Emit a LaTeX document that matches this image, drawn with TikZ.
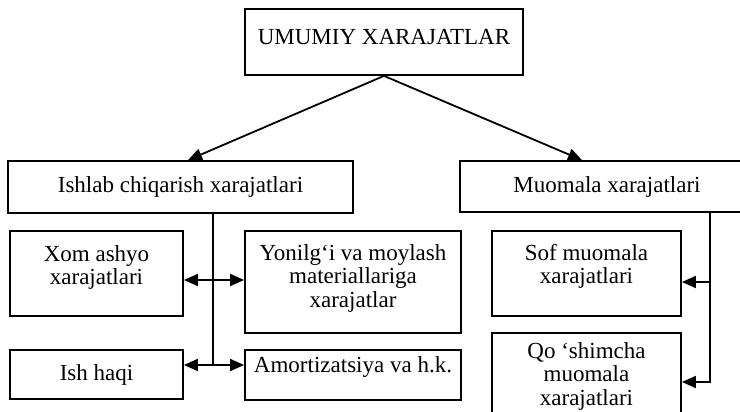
\documentclass[tikz,border=0pt]{standalone}
\usepackage{fontspec}
\setmainfont{Liberation Serif}
\usetikzlibrary{arrows.meta}
\begin{document}
\begin{tikzpicture}[x=1pt,y=-1pt,
  box/.style={draw, line width=1.8pt, inner sep=0pt, align=center,
    font=\fontsize{23}{23.5}\selectfont},
  tip/.style={Triangle[length=14pt,width=12pt]},
  arr/.style={line width=1.8pt, -{Triangle[length=14pt,width=12pt]}},
  darr/.style={line width=1.8pt, {Triangle[length=14pt,width=12pt]}-{Triangle[length=14pt,width=12pt]}},
  conn/.style={line width=1.8pt}]
\useasboundingbox (0,0) rectangle (740,412);
\node[box, minimum width=278pt, minimum height=66pt, text depth=10pt] (top) at (384,42) {UMUMIY XARAJATLAR};
\node[box, minimum width=345pt, minimum height=52pt] (ish) at (180.5,187) {Ishlab chiqarish xarajatlari};
\node[box, minimum width=294pt, minimum height=51pt] (muo) at (607,186.5) {Muomala xarajatlari};
\node[box, minimum width=173pt, minimum height=85pt, text depth=17pt] (xom) at (96.5,273.5) {Xom ashyo\\xarajatlari};
\node[box, minimum width=216pt, minimum height=102pt, text depth=12pt] (yon) at (353,282) {Yonilg‘i va moylash\\materiallariga\\xarajatlar};
\node[box, minimum width=173pt, minimum height=49pt] (haq) at (96.5,374.5) {Ish haqi};
\node[box, minimum width=216pt, minimum height=50pt, text depth=20pt] (amo) at (353,375) {Amortizatsiya va h.k.};
\node[box, minimum width=189pt, minimum height=85pt, text depth=19pt] (sof) at (586.5,273.5) {Sof muomala\\xarajatlari};
\node[box, minimum width=189pt, minimum height=86pt] (qos) at (586.5,376) {Qo ‘shimcha\\muomala\\xarajatlari};
\draw[arr] (top.south) -- ([xshift=7.5pt]ish.north);
\draw[arr] (top.south) -- ([xshift=-25pt]muo.north);
\coordinate (j1) at (213,280);
\coordinate (j2) at (213,365);
\draw[conn] (ish.south -| j1) -- (j2);
\draw[darr] (xom.east |- j1) -- (yon.west |- j1);
\draw[darr] (haq.east |- j2) -- (amo.west |- j2);
\coordinate (k1) at (710,282);
\coordinate (k2) at (710,382);
\draw[arr] (muo.south -| k2) -- (k2) -- (qos.east |- k2);
\draw[arr] (k1) -- (sof.east |- k1);
\end{tikzpicture}
\end{document}
